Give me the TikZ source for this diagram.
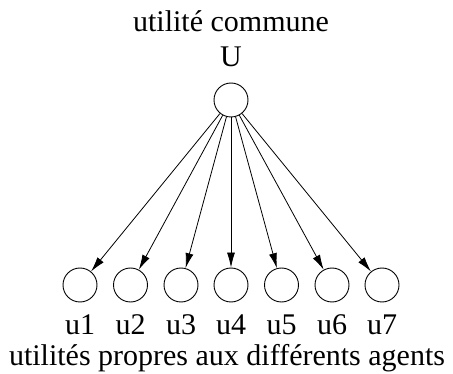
\documentclass[tikz,border=0pt]{standalone}
\usepackage{fontspec}
\setmainfont{Liberation Serif}
\usetikzlibrary{arrows.meta}
\begin{document}
\begin{tikzpicture}[x=1pt,y=-1pt,
  agent/.style={circle,draw,line width=0.9pt,minimum size=34pt,inner sep=0pt},
  lbl/.style={anchor=base,inner sep=0pt,font=\fontsize{30}{36}\selectfont},
  link/.style={line width=0.8pt,-{Latex[length=15pt,width=8pt]}}]
\useasboundingbox (0,0) rectangle (453,374);
\node[lbl] (title) at (231,32) {utilité commune};
\node[lbl] (Ulbl) at (231,67) {U};
\node[agent] (U) at (231,100) {};
\foreach \i/\x in {1/80,2/130.5,3/181,4/231,5/281.5,6/332,7/382}{
  \node[agent] (u\i) at (\x,285) {};
  \node[lbl] (l\i) at (\x,335) {u\i};
  \draw[link] (U) -- (u\i);
}
\node[lbl] (bottom) at (227,366) {utilités propres aux différents agents};
\end{tikzpicture}
\end{document}
